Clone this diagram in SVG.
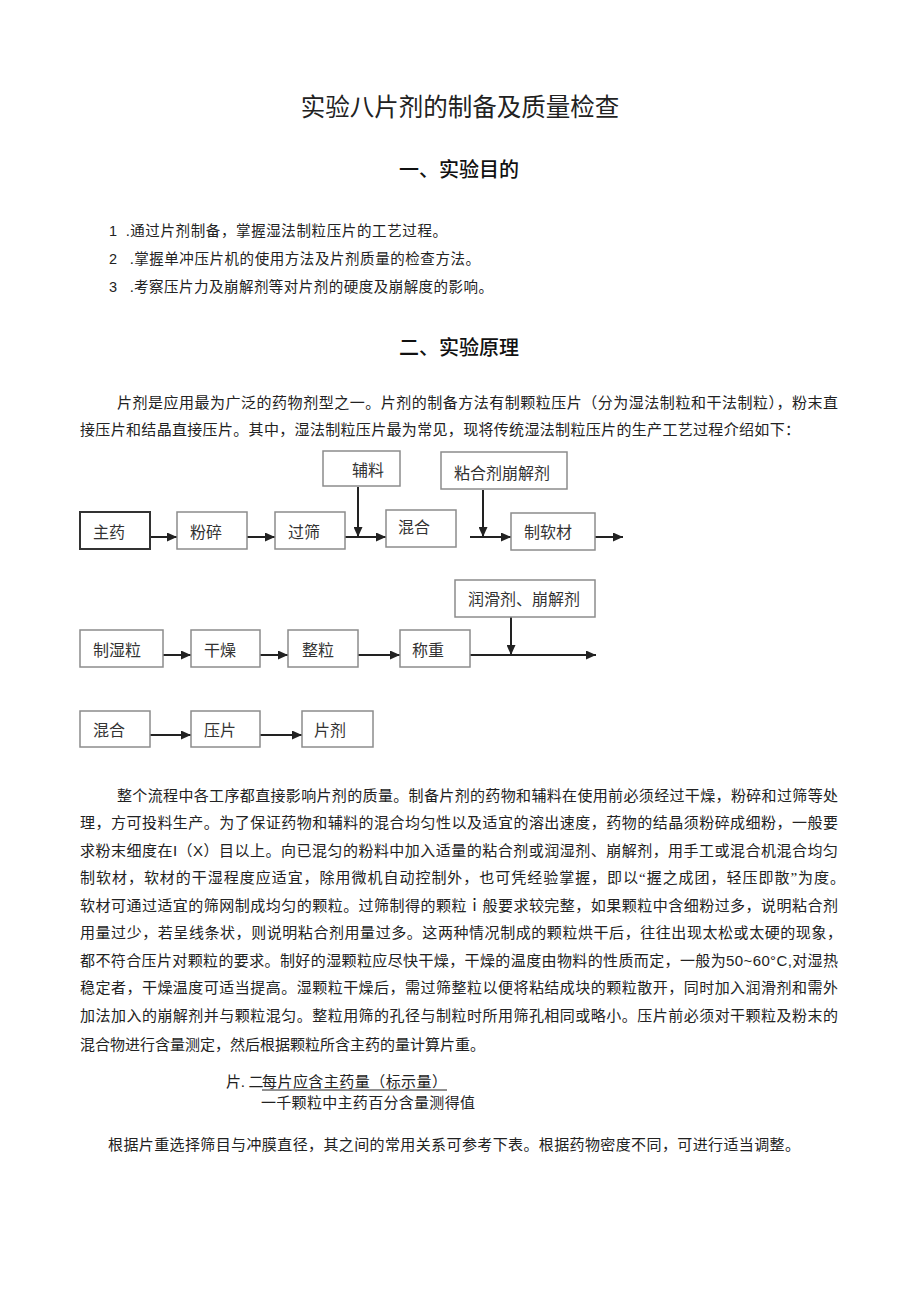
<svg xmlns="http://www.w3.org/2000/svg" width="920" height="1301" viewBox="0 0 920 1301">
<style>
.bg{fill:#fff}
.t{font-family:'Liberation Serif','Noto Sans CJK SC',serif;fill:#222}
.title{font-size:24.5px;text-anchor:middle}
.h{font-family:'Noto Sans CJK SC',sans-serif;font-size:20px;font-weight:500;text-anchor:middle;fill:#111}
.li{font-size:14.5px}
.num{font-family:'Liberation Sans',sans-serif;font-size:14.5px;fill:#222}
.p{font-size:15px}
.box{fill:#fff;stroke:#8c8c8c;stroke-width:1.5}
.boxd{fill:#fff;stroke:#333;stroke-width:2}
.bt{font-family:'Liberation Serif','Noto Sans CJK SC',serif;font-size:16px;fill:#333}
.c{stroke:#222;stroke-width:2;fill:none}
.arr{marker-end:url(#ah)}
.sans{font-family:'Liberation Sans',sans-serif}
</style>
<defs>
<marker id="ah" markerUnits="userSpaceOnUse" markerWidth="10" markerHeight="9" refX="10" refY="4.5" orient="auto">
<path d="M0,0 L10,4.5 L0,9 z" fill="#222"/>
</marker>
</defs>
<rect class="bg" x="0" y="0" width="920" height="1301"/>

<g id="header">
<text class="t title" x="460" y="116">实验八片剂的制备及质量检查</text>
<text class="h" x="459" y="177">一、实验目的</text>
<text class="num" x="109" y="236">1</text><text class="t li" x="126" y="236" textLength="321" lengthAdjust="spacing">.通过片剂制备，掌握湿法制粒压片的工艺过程。</text>
<text class="num" x="109" y="264">2</text><text class="t li" x="130" y="264" textLength="350" lengthAdjust="spacing">.掌握单冲压片机的使用方法及片剂质量的检查方法。</text>
<text class="num" x="109" y="292">3</text><text class="t li" x="130" y="292" textLength="363" lengthAdjust="spacing">.考察压片力及崩解剂等对片剂的硬度及崩解度的影响。</text>
<text class="h" x="459" y="355">二、实验原理</text>
<text class="t p" x="117" y="407.5" textLength="721" lengthAdjust="spacing">片剂是应用最为广泛的药物剂型之一。片剂的制备方法有制颗粒压片（分为湿法制粒和干法制粒），粉末直</text>
<text class="t p" x="80" y="434.5" textLength="720" lengthAdjust="spacing">接压片和结晶直接压片。其中，湿法制粒压片最为常见，现将传统湿法制粒压片的生产工艺过程介绍如下：</text>
</g>

<g id="connectors">
<line class="c arr" x1="150" y1="537" x2="177" y2="537"/>
<line class="c arr" x1="247" y1="537" x2="275" y2="537"/>
<line class="c arr" x1="345" y1="537" x2="386" y2="537"/>
<line class="c arr" x1="358" y1="487" x2="358" y2="537"/>
<line class="c arr" x1="483" y1="490" x2="483" y2="537"/>
<line class="c arr" x1="470" y1="537" x2="511" y2="537"/>
<line class="c arr" x1="595" y1="537" x2="623" y2="537"/>
<line class="c arr" x1="163" y1="655" x2="191" y2="655"/>
<line class="c arr" x1="260" y1="655" x2="288" y2="655"/>
<line class="c arr" x1="358" y1="655" x2="400" y2="655"/>
<line class="c arr" x1="470" y1="655" x2="596" y2="655"/>
<line class="c arr" x1="511" y1="617" x2="511" y2="655"/>
<line class="c arr" x1="150" y1="735" x2="191" y2="735"/>
<line class="c arr" x1="260" y1="735" x2="302" y2="735"/>
</g>

<g id="n-zhuyao"><rect class="boxd" x="80" y="512" width="70" height="37"/><text class="bt" x="93" y="538">主药</text></g>
<g id="n-fensui"><rect class="box" x="177" y="512" width="70" height="37"/><text class="bt" x="190" y="538">粉碎</text></g>
<g id="n-guoshai"><rect class="box" x="275" y="512" width="70" height="37"/><text class="bt" x="288" y="538">过筛</text></g>
<g id="n-fuliao"><rect class="box" x="323" y="451" width="77" height="35"/><text class="bt" x="352" y="476">辅料</text></g>
<g id="n-hunhe1"><rect class="box" x="386" y="510" width="70" height="37"/><text class="bt" x="398" y="533">混合</text></g>
<g id="n-nianhe"><rect class="box" x="441" y="452" width="126" height="37"/><text class="bt" x="454" y="479">粘合剂崩解剂</text></g>
<g id="n-zhiruancai"><rect class="box" x="511" y="513" width="84" height="37"/><text class="bt" x="524" y="538">制软材</text></g>

<g id="n-zhishili"><rect class="box" x="80" y="630" width="83" height="37"/><text class="bt" x="93" y="656">制湿粒</text></g>
<g id="n-ganzao"><rect class="box" x="191" y="630" width="69" height="37"/><text class="bt" x="204" y="656">干燥</text></g>
<g id="n-zhengli"><rect class="box" x="288" y="630" width="70" height="37"/><text class="bt" x="302" y="656">整粒</text></g>
<g id="n-chengzhong"><rect class="box" x="400" y="630" width="70" height="37"/><text class="bt" x="412" y="656">称重</text></g>
<g id="n-runhua"><rect class="box" x="455" y="580" width="140" height="37"/><text class="bt" x="468" y="605">润滑剂、崩解剂</text></g>

<g id="n-hunhe2"><rect class="box" x="80" y="711" width="70" height="36"/><text class="bt" x="93" y="736">混合</text></g>
<g id="n-yapian"><rect class="box" x="191" y="711" width="69" height="36"/><text class="bt" x="204" y="736">压片</text></g>
<g id="n-pianji"><rect class="box" x="302" y="711" width="71" height="36"/><text class="bt" x="314" y="736">片剂</text></g>

<g id="body">
<text class="t p" x="117" y="800.5" textLength="721" lengthAdjust="spacing">整个流程中各工序都直接影响片剂的质量。制备片剂的药物和辅料在使用前必须经过干燥，粉碎和过筛等处</text>
<text class="t p" x="80" y="828" textLength="758" lengthAdjust="spacing">理，方可投料生产。为了保证药物和辅料的混合均匀性以及适宜的溶出速度，药物的结晶须粉碎成细粉，一般要</text>
<text class="t p" x="80" y="855.5" textLength="758" lengthAdjust="spacing">求粉末细度在<tspan class="sans">I</tspan>（<tspan class="sans">X</tspan>）目以上。向已混匀的粉料中加入适量的粘合剂或润湿剂、崩解剂，用手工或混合机混合均匀</text>
<text class="t p" x="80" y="883" textLength="765" lengthAdjust="spacing">制软材，软材的干湿程度应适宜，除用微机自动控制外，也可凭经验掌握，即以“握之成团，轻压即散”为度。</text>
<text class="t p" x="80" y="910.5" textLength="758" lengthAdjust="spacing">软材可通过适宜的筛网制成均匀的颗粒。过筛制得的颗粒ｉ般要求较完整，如果颗粒中含细粉过多，说明粘合剂</text>
<text class="t p" x="80" y="938" textLength="762" lengthAdjust="spacing">用量过少，若呈线条状，则说明粘合剂用量过多。这两种情况制成的颗粒烘干后，往往出现太松或太硬的现象，</text>
<text class="t p" x="80" y="965.5" textLength="758" lengthAdjust="spacing">都不符合压片对颗粒的要求。制好的湿颗粒应尽快干燥，干燥的温度由物料的性质而定，一般为<tspan class="sans">50~60°C,</tspan>对湿热</text>
<text class="t p" x="80" y="993" textLength="758" lengthAdjust="spacing">稳定者，干燥温度可适当提高。湿颗粒干燥后，需过筛整粒以便将粘结成块的颗粒散开，同时加入润滑剂和需外</text>
<text class="t p" x="80" y="1020.5" textLength="758" lengthAdjust="spacing">加法加入的崩解剂并与颗粒混匀。整粒用筛的孔径与制粒时所用筛孔相同或略小。压片前必须对干颗粒及粉末的</text>
<text class="t p" x="80" y="1050">混合物进行含量测定，然后根据颗粒所含主药的量计算片重。</text>
</g>

<g id="formula">
<text class="t p" x="226" y="1087">片. 二</text>
<text class="t p" x="262" y="1087" textLength="185" lengthAdjust="spacing">每片应含主药量（标示量）</text>
<line x1="262" y1="1090" x2="447" y2="1090" stroke="#222" stroke-width="1"/>
<text class="t p" x="261" y="1108" textLength="214" lengthAdjust="spacing">一千颗粒中主药百分含量测得值</text>
</g>

<g id="footer">
<text class="t p" x="108" y="1150" textLength="692" lengthAdjust="spacing">根据片重选择筛目与冲膜直径，其之间的常用关系可参考下表。根据药物密度不同，可进行适当调整。</text>
</g>
</svg>
